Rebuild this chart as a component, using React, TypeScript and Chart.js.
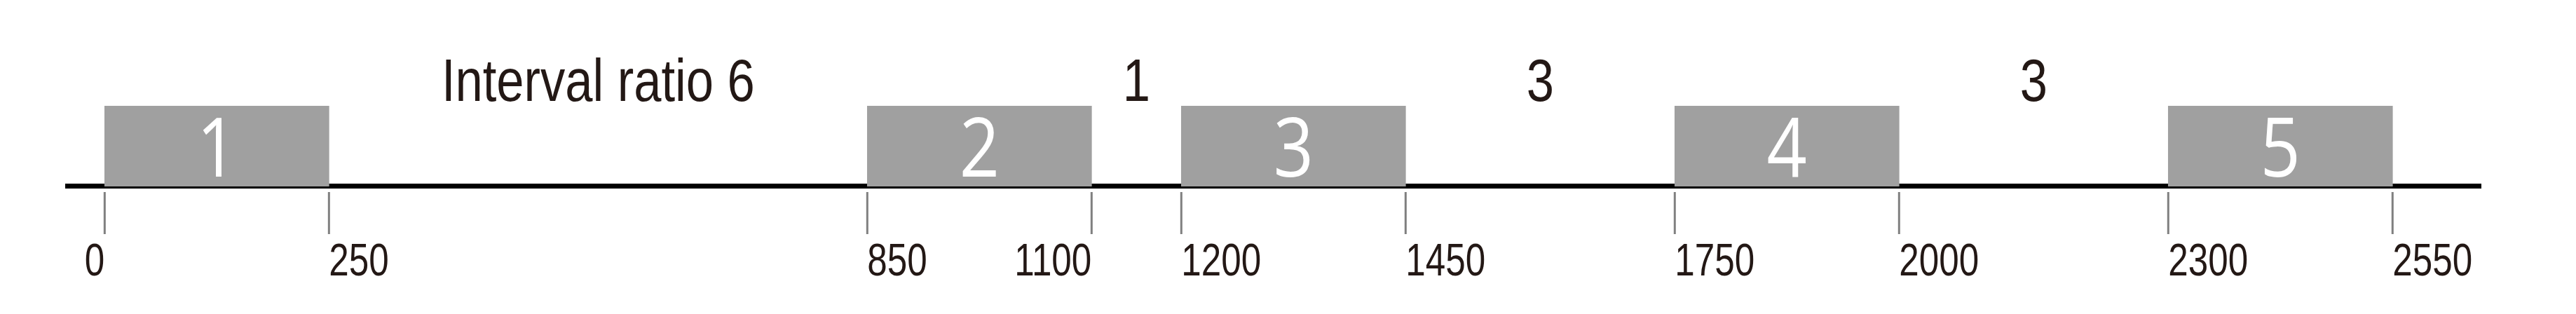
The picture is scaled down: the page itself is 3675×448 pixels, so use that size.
import { useEffect, useRef } from "react"
import { Chart, registerables } from "chart.js"

Chart.register(...registerables)

// segments on the line (start, end)
const segments: [number, number][] = [
  [0, 250],
  [850, 1100],
  [1200, 1450],
  [1750, 2000],
  [2300, 2550],
]
const segmentLabels = ["1", "2", "3", "4", "5"]
const tickValues = [0, 250, 850, 1100, 1200, 1450, 1750, 2000, 2300, 2550]
const tickAlign: CanvasTextAlign[] = ["right", "left", "left", "right", "left", "left", "left", "left", "left", "left"]
const gapLabels = ["Interval ratio 6", "1", "3", "3"]
const gapCenters = [550, 1150, 1600, 2150]

const sans = '"Liberation Sans", Arial, sans-serif'

// draw horizontally condensed text
function narrowText(ctx: CanvasRenderingContext2D, text: string, x: number, y: number, align: CanvasTextAlign, k: number) {
  ctx.save()
  ctx.translate(x, y)
  ctx.scale(k, 1)
  ctx.textAlign = align
  ctx.fillText(text, 0, 0)
  ctx.restore()
}

const decorPlugin = {
  id: "decor",
  beforeDatasetsDraw(chart: Chart) {
    const { ctx, chartArea } = chart
    const x = chart.scales.x
    ctx.save()
    ctx.fillStyle = "#000"
    ctx.fillRect(chartArea.left, 262, chartArea.right - chartArea.left, 7)
    ctx.fillStyle = "#808080"
    tickValues.forEach((v) => {
      const px = x.getPixelForValue(v)
      ctx.fillRect(px - 1.5, 274, 3, 60)
    })
    ctx.fillStyle = "#231815"
    ctx.textBaseline = "alphabetic"
    ctx.font = `64px ${sans}`
    tickValues.forEach((v, i) => {
      narrowText(ctx, String(v), x.getPixelForValue(v), 393, tickAlign[i], 0.8)
    })
    ctx.font = `86px ${sans}`
    gapLabels.forEach((t, i) => {
      narrowText(ctx, t, x.getPixelForValue(gapCenters[i]), 144, "center", 0.82)
    })
    ctx.restore()
  },
  afterDatasetsDraw(chart: Chart) {
    const { ctx } = chart
    const x = chart.scales.x
    ctx.save()
    ctx.fillStyle = "#fff"
    ctx.font = `400 118px "Open Sans", sans-serif`
    ctx.textBaseline = "alphabetic"
    segments.forEach((s, i) => {
      narrowText(ctx, segmentLabels[i], x.getPixelForValue((s[0] + s[1]) / 2), 252, "center", 0.85)
    })
    ctx.restore()
  },
}

export default function App() {
  const canvasRef = useRef<HTMLCanvasElement>(null)

  useEffect(() => {
    document.body.style.margin = "0"
    if (!canvasRef.current) return
    const chart = new Chart(canvasRef.current, {
      type: "bar",
      data: {
        labels: ["row"],
        datasets: segments.map((s) => ({
          data: [s],
          backgroundColor: "#a0a0a0",
          borderWidth: 0,
          barPercentage: 1,
          categoryPercentage: 1,
          grouped: false,
        })) as any,
      },
      options: {
        indexAxis: "y",
        animation: false,
        responsive: false,
        events: [],
        layout: { padding: { top: 151, bottom: 182, left: 93, right: 135 } },
        plugins: { legend: { display: false }, tooltip: { enabled: false } },
        scales: {
          x: { type: "linear", min: -44, max: 2649, display: false },
          y: { type: "category", labels: ["row"], display: false },
        },
      },
      plugins: [decorPlugin],
    })
    return () => chart.destroy()
  }, [])

  return <canvas ref={canvasRef} width={3675} height={448} style={{ display: "block" }} />
}
